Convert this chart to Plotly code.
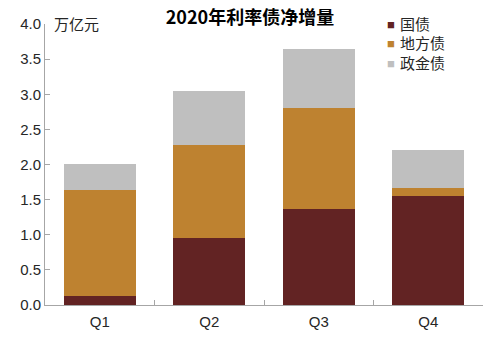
import plotly.graph_objects as go

quarters = ["Q1", "Q2", "Q3", "Q4"]
guozhai = [0.13, 0.95, 1.36, 1.55]
difangzhai = [1.51, 1.33, 1.44, 0.11]
zhengjinzhai = [0.37, 0.76, 0.85, 0.54]
y_ticks = [0, 0.5, 1.0, 1.5, 2.0, 2.5, 3.0, 3.5, 4.0]
series_names = ["国债", "地方债", "政金债"]
series_colors = ["#622323", "#BE8230", "#BFBFBF"]

W, H = 485, 338
L, R, T, B = 45, 2, 24, 33
PW, PH = W - L - R, H - T - B

font_main = "Liberation Sans, Noto Sans CJK SC, sans-serif"

fig = go.Figure()
for name, vals, col in zip(series_names, [guozhai, difangzhai, zhengjinzhai], series_colors):
    fig.add_trace(go.Bar(x=quarters, y=vals, name=name, marker_color=col,
                         marker_line_width=0, showlegend=False))

annots = [dict(text="万亿元", x=(52 - L) / PW, xref="paper", y=1.0, yref="paper",
               xanchor="left", yanchor="middle", showarrow=False,
               font=dict(size=15, color="#262626"))]
# legend drawn as text entries
for i, (name, col) in enumerate(zip(series_names, series_colors)):
    ypix = 24 + i * 19.5
    yp = (H - B - ypix) / PH
    annots.append(dict(text="■", x=(385 - L) / PW, xref="paper", y=yp, yref="paper",
                       xanchor="left", yanchor="middle", showarrow=False,
                       font=dict(size=13, color=col)))
    annots.append(dict(text=name, x=(398 - L) / PW, xref="paper", y=yp, yref="paper",
                       xanchor="left", yanchor="middle", showarrow=False,
                       font=dict(size=15, color="#262626")))

fig.update_layout(
    width=W, height=H,
    barmode="stack", bargap=0.34,
    margin=dict(l=L, r=R, t=T, b=B, autoexpand=False),
    plot_bgcolor="white", paper_bgcolor="white",
    font=dict(family=font_main, size=15, color="#262626"),
    title=dict(text="<b>2020年利率债净增量</b>", x=250 / W, xref="container", xanchor="center",
               y=1 - 18 / H, yref="container", yanchor="middle",
               font=dict(size=18, color="#000000", family="Noto Sans CJK SC, sans-serif")),
    annotations=annots,
)
fig.update_yaxes(range=[0, 4], tickvals=y_ticks, ticktext=[f"{v:.1f}" for v in y_ticks],
                 showgrid=False, showline=True, linecolor="#A6A6A6", linewidth=1,
                 ticks="inside", ticklen=5, tickcolor="#A6A6A6", zeroline=False,
                 tickfont=dict(size=15, color="#262626"))
fig.update_xaxes(showgrid=False, showline=True, linecolor="#A6A6A6", linewidth=1,
                 ticks="inside", tickson="boundaries", ticklen=5, tickcolor="#A6A6A6",
                 tickfont=dict(size=15, color="#262626"), ticklabelstandoff=3)

fig.write_html("out.html")
